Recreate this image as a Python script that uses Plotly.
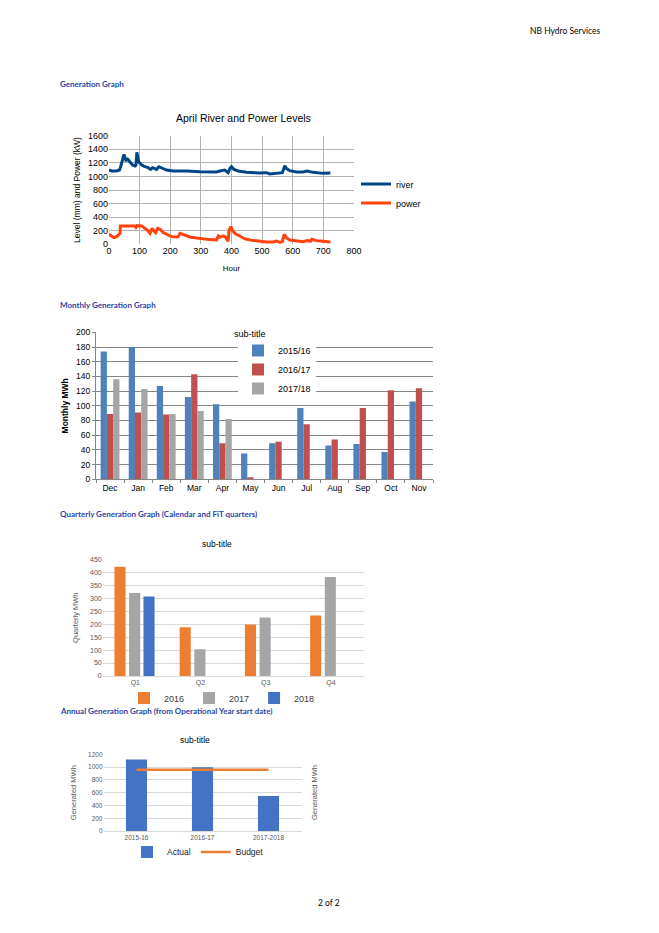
import plotly.graph_objects as go

# page is 659x933; the HTML body has an 8px margin, so the figure is 643x917 placed at (8, 8)
PAGE_OFF = 8
W, H = 659 - 2 * PAGE_OFF, 933 - 2 * PAGE_OFF

# ---------------- Data ----------------
# Chart 1: April river and power levels (hour, value)
river_hours = [0, 9, 25, 34, 38, 49, 55, 61, 68, 77, 85, 88, 91, 97, 107, 117, 128, 136, 142, 150, 155, 163,
               172, 188, 210, 232, 240, 253, 297, 340, 351, 362, 378, 389, 395, 400, 408, 422, 449, 492, 514,
               525, 547, 558, 566, 574, 579, 590, 612, 634, 647, 666, 699, 723]
river_level = [1094, 1080, 1080, 1094, 1143, 1325, 1242, 1256, 1217, 1168, 1153, 1165, 1355, 1217, 1168, 1143,
               1129, 1104, 1129, 1119, 1104, 1143, 1129, 1094, 1080, 1080, 1090, 1080, 1070, 1060, 1065, 1080,
               1094, 1055, 1119, 1143, 1104, 1080, 1060, 1050, 1055, 1036, 1045, 1055, 1055, 1158, 1119, 1085,
               1065, 1065, 1080, 1060, 1045, 1050]
power_hours = [0, 9, 16, 25, 34, 36, 37, 47, 85, 88, 92, 107, 117, 125, 134, 141, 147, 152, 159, 166, 177, 188,
               204, 221, 226, 232, 245, 264, 286, 308, 329, 351, 357, 362, 373, 380, 389, 392, 398, 403, 414,
               427, 444, 465, 492, 514, 536, 547, 558, 566, 572, 579, 590, 612, 634, 647, 658, 662, 677, 699, 723]
power_kw = [147, 113, 98, 113, 147, 162, 270, 270, 270, 250, 275, 270, 236, 211, 162, 236, 196, 172, 236, 226,
            172, 147, 113, 108, 113, 162, 137, 108, 93, 79, 69, 64, 123, 103, 123, 108, 44, 211, 260, 201, 152,
            123, 79, 59, 44, 34, 34, 49, 29, 39, 147, 98, 64, 49, 39, 54, 44, 74, 54, 44, 34]

# Chart 2: Monthly generation (MWh)
months = ["Dec", "Jan", "Feb", "Mar", "Apr", "May", "Jun", "Jul", "Aug", "Sep", "Oct", "Nov"]
monthly_2015_16 = [174, 180, 127, 112, 102, 35, 49, 97, 46, 48, 37, 106]
monthly_2016_17 = [89, 91, 88, 143, 49, 2, 51, 75, 54, 97, 121, 124]
monthly_2017_18 = [136, 123, 89, 93, 82, None, None, None, None, None, None, None]

# Chart 3: Quarterly generation (MWh)
quarters = ["Q1", "Q2", "Q3", "Q4"]
quarterly_2016 = [421, 188, 199, 233]
quarterly_2017 = [320, 103, 226, 382]
quarterly_2018 = [307, None, None, None]

# Chart 4: Annual generation (MWh)
op_years = ["2015-16", "2016-17", "2017-2018"]
annual_actual = [1120, 996, 548]
annual_budget = [960, 960, 960]


def px_x(p):
    """page pixel x -> paper fraction"""
    return (p - PAGE_OFF) / W


def px_y(p):
    """page pixel y -> paper fraction"""
    return 1 - (p - PAGE_OFF) / H


SANS = "Liberation Sans, Arial, sans-serif"
HEAD = "Lato, Open Sans, sans-serif"
HEAD_COLOR = "#2a44a6"

fig = go.Figure()

# ---------- Chart 1 ----------
fig.add_trace(go.Scatter(x=river_hours, y=river_level, mode="lines", name="river",
                         line=dict(color="#004586", width=3), xaxis="x", yaxis="y", legend="legend"))
fig.add_trace(go.Scatter(x=power_hours, y=power_kw, mode="lines", name="power",
                         line=dict(color="#ff420e", width=3), xaxis="x", yaxis="y", legend="legend"))

# ---------- Chart 2 ----------
for name, vals, col in [("2015/16", monthly_2015_16, "#4f81bd"),
                        ("2016/17", monthly_2016_17, "#c0504d"),
                        ("2017/18", monthly_2017_18, "#a5a5a5")]:
    fig.add_trace(go.Bar(x=months, y=vals, name=name, marker=dict(color=col, line=dict(width=0)),
                         xaxis="x2", yaxis="y2", legend="legend2"))

# ---------- Chart 3 ----------
q_offsets = {"2016": -0.32, "2017": -0.095, "2018": 0.125}
for name, vals, col in [("2016", quarterly_2016, "#ed7d31"),
                        ("2017", quarterly_2017, "#a5a5a5"),
                        ("2018", quarterly_2018, "#4472c4")]:
    fig.add_trace(go.Bar(x=quarters, y=vals, name=name, marker=dict(color=col, line=dict(width=0)),
                         width=0.17, offset=q_offsets[name],
                         xaxis="x3", yaxis="y3", legend="legend3"))

# ---------- Chart 4 ----------
fig.add_trace(go.Bar(x=op_years, y=annual_actual, name="Actual", marker=dict(color="#4472c4", line=dict(width=0)),
                     width=0.32, xaxis="x4", yaxis="y4", legend="legend4"))
fig.add_trace(go.Scatter(x=op_years, y=annual_budget, name="Budget", mode="lines",
                         line=dict(color="#ed7d31", width=2.5), xaxis="x4", yaxis="y4", legend="legend4"))

grid1 = "#b3b3b3"
tickf1 = dict(family=SANS, size=9, color="#000000")

layout = dict(
    width=W, height=H, margin=dict(l=0, r=0, t=0, b=0, pad=0, autoexpand=False),
    paper_bgcolor="white", plot_bgcolor="white",
    showlegend=True, barmode="group",
    font=dict(family=SANS),
    # Chart 1 axes
    xaxis=dict(domain=[px_x(109), px_x(354)], range=[0, 800], dtick=100, showgrid=True, gridcolor=grid1,
               gridwidth=1, zeroline=False, showline=False, tickfont=tickf1, ticks="", anchor="y",
               automargin=False,
               title=dict(text="Hour", font=dict(family=SANS, size=8, color="#000"), standoff=10)),
    yaxis=dict(domain=[px_y(244.3), px_y(135.7)], range=[0, 1600], dtick=200, showgrid=True, gridcolor=grid1,
               zeroline=False, showline=False, tickfont=tickf1, ticks="", anchor="x", automargin=False,
               title=dict(text="Level (mm) and Power (kW)", font=dict(family=SANS, size=8.5, color="#000"),
                          standoff=5)),
    # Chart 2 axes
    xaxis2=dict(domain=[px_x(96), px_x(433)], anchor="y2", showgrid=False, showline=True, linecolor="#868686",
                ticks="outside", ticklen=3, tickcolor="#868686", tickson="boundaries", automargin=False,
                tickfont=dict(family=SANS, size=8.5, color="#000")),
    yaxis2=dict(domain=[px_y(479.3), px_y(332.3)], anchor="x2", range=[0, 200], dtick=20, showgrid=True,
                gridcolor="#868686", showline=True, linecolor="#868686", ticks="outside", ticklen=3,
                tickcolor="#868686", zeroline=False, tickfont=dict(family=SANS, size=8.5, color="#000"),
                automargin=False,
                title=dict(text="<b>Monthly MWh</b>", font=dict(family=SANS, size=8.5, color="#000"), standoff=6)),
    # Chart 3 axes
    xaxis3=dict(domain=[px_x(102.7), px_x(363.6)], anchor="y3", showgrid=False, showline=True,
                linecolor="#d9d9d9", ticks="", automargin=False,
                tickfont=dict(family=SANS, size=7, color="#595959")),
    yaxis3=dict(domain=[px_y(676), px_y(559.3)], anchor="x3", range=[0, 450], dtick=50, showgrid=True,
                gridcolor="#d9d9d9", showline=False, zeroline=False, ticks="", automargin=False,
                tickfont=dict(family=SANS, size=7, color="#595959"),
                title=dict(text="Quarterly MWh", font=dict(family=SANS, size=7.5, color="#595959"), standoff=10)),
    # Chart 4 axes
    xaxis4=dict(domain=[px_x(103.5), px_x(301.5)], anchor="y4", showgrid=False, showline=True,
                linecolor="#d9d9d9", ticks="", automargin=False,
                tickfont=dict(family=SANS, size=6.5, color="#595959")),
    yaxis4=dict(domain=[px_y(831), px_y(754.3)], anchor="x4", range=[0, 1200], dtick=200, showgrid=True,
                gridcolor="#d9d9d9", showline=False, zeroline=False, ticks="", automargin=False,
                tickfont=dict(family=SANS, size=6.5, color="#595959"),
                title=dict(text="Generated MWh", font=dict(family=SANS, size=7.5, color="#595959"), standoff=10)),
    legend=dict(x=px_x(356), y=px_y(193.5), xanchor="left", yanchor="middle", orientation="v",
                font=dict(family=SANS, size=9, color="#000"), bgcolor="rgba(0,0,0,0)", itemwidth=30,
                tracegroupgap=0),
    legend2=dict(x=px_x(238), y=px_y(336), xanchor="left", yanchor="top", orientation="v",
                 font=dict(family=SANS, size=9, color="#000"), bgcolor="white", itemwidth=30,
                 tracegroupgap=0),
    legend3=dict(x=px_x(222), y=px_y(698), xanchor="center", yanchor="middle", orientation="h",
                 font=dict(family=SANS, size=9, color="#404040"), bgcolor="rgba(0,0,0,0)", itemwidth=30),
    legend4=dict(x=px_x(198), y=px_y(852), xanchor="center", yanchor="middle", orientation="h",
                 font=dict(family=SANS, size=8.5, color="#222"), bgcolor="rgba(0,0,0,0)", itemwidth=30),
    bargap=0.33, bargroupgap=0,
)
fig.update_layout(**layout)

ann = []


def text(x, y, s, size, color="#000", family=HEAD, xanchor="left", bg=None, angle=0):
    d = dict(x=px_x(x), y=px_y(y), xref="paper", yref="paper", text=s, showarrow=False,
             xanchor=xanchor, yanchor="middle", font=dict(family=family, size=size, color=color),
             textangle=angle)
    if bg:
        d["bgcolor"] = bg
    ann.append(d)


text(603, 31, "NB Hydro Services", 8.5, "#000", HEAD, "right")
text(58, 84, "<b>Generation Graph</b>", 8, HEAD_COLOR)
text(58, 305, "<b>Monthly Generation Graph</b>", 8, HEAD_COLOR)
text(58, 514, "<b>Quarterly Generation Graph (Calendar and FiT quarters)</b>", 8, HEAD_COLOR)
text(58, 711, "<b>Annual Generation Graph (from Operational Year start date)</b>", 8, HEAD_COLOR)
text(329, 903, "2 of 2", 8.5, "#000", HEAD, "center")

text(243, 118, "April River and Power Levels", 10.5, "#000", SANS, "center")
text(250, 334, "sub-title", 9, "#000", SANS, "center", bg="white")
text(217, 544, "sub-title", 8.5, "#000", SANS, "center")
text(195, 740, "sub-title", 8.5, "#000", SANS, "center")
text(314, 793, "Generated MWh", 7.5, "#595959", SANS, "center", angle=-90)

fig.update_layout(annotations=ann)

fig.write_html("out.html")
